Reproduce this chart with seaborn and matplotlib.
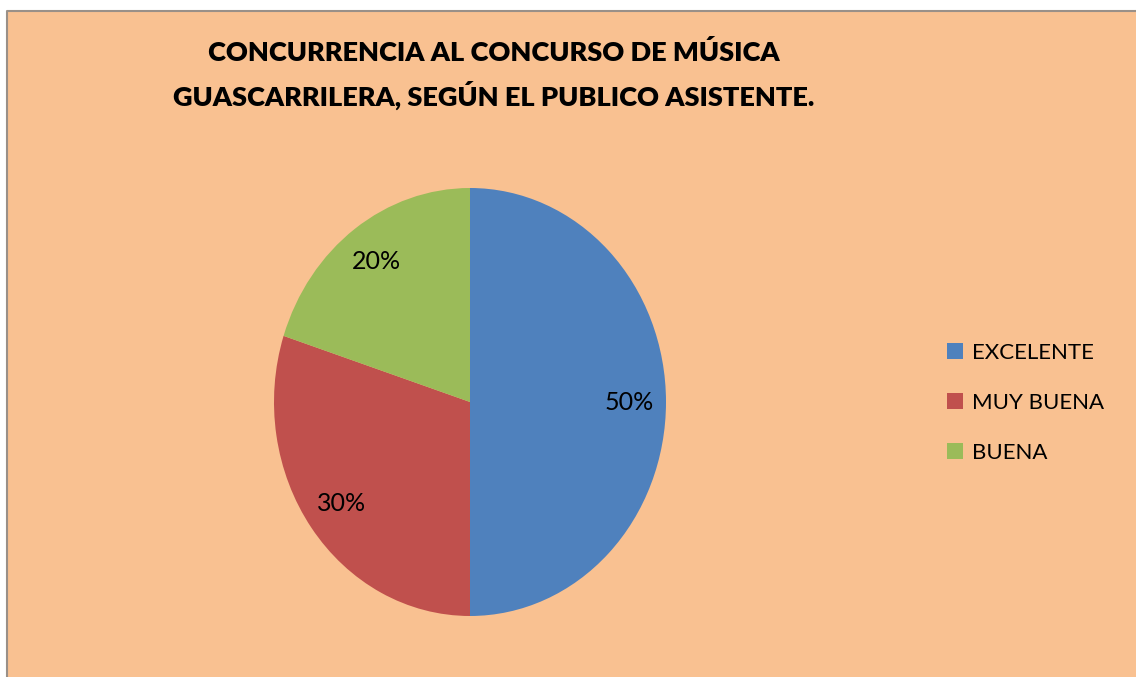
import seaborn as sns
import matplotlib.pyplot as plt
from matplotlib.patches import Rectangle
from matplotlib.lines import Line2D

# datos del gráfico
categorias = ["EXCELENTE", "MUY BUENA", "BUENA"]
porcentajes = [50, 30, 20]
colores = ["#4F81BD", "#C0504D", "#9BBB59"]
titulo = "CONCURRENCIA AL CONCURSO DE MÚSICA\nGUASCARRILERA, SEGÚN EL PUBLICO ASISTENTE."

sns.set_theme(style="white")
plt.rcParams["font.family"] = ["Lato", "DejaVu Sans"]
plt.rcParams["text.color"] = "black"

W, H = 1136, 677
fig = plt.figure(figsize=(W / 100, H / 100), dpi=100, facecolor="white")

# fondo del área del gráfico, borde gris solo arriba e izquierda
x0, y1 = 6.5 / W, 1 - 11 / H
fig.patches.append(Rectangle((x0, 0), 1 - x0, y1, transform=fig.transFigure,
                             facecolor="#F9C191", edgecolor="none", zorder=-10))
fig.add_artist(Line2D([x0, x0, 1], [0, y1, y1], transform=fig.transFigure,
                      color="#9a9088", linewidth=1.5))

cx, cy, rx, ry = 470, 402, 196, 214
ax = fig.add_axes([(cx - rx) / W, 1 - (cy + ry) / H, 2 * rx / W, 2 * ry / H])
ax.set_facecolor("none")

wedges, textos, autotextos = ax.pie(
    porcentajes, colors=colores, startangle=90, counterclock=False,
    autopct="%1.0f%%", pctdistance=0.81, radius=1,
    wedgeprops=dict(linewidth=0),
    textprops=dict(fontsize=18, color="black"),
)
ax.set_aspect("auto")
ax.set_xlim(-1, 1)
ax.set_ylim(-1, 1)
ax.axis("off")

fig.text(494 / W, 1 - 75 / H, titulo, ha="center", va="center", fontsize=19.5,
         fontweight="heavy", color="black", linespacing=1.62)

fig.legend(wedges, categorias, loc="center left", bbox_to_anchor=(938 / W, 1 - 403 / H),
           frameon=False, fontsize=16, handlelength=0.72, handleheight=0.72,
           handletextpad=0.4, labelspacing=1.35, borderaxespad=0)

fig.savefig("out.png", dpi=100, facecolor=fig.get_facecolor())
